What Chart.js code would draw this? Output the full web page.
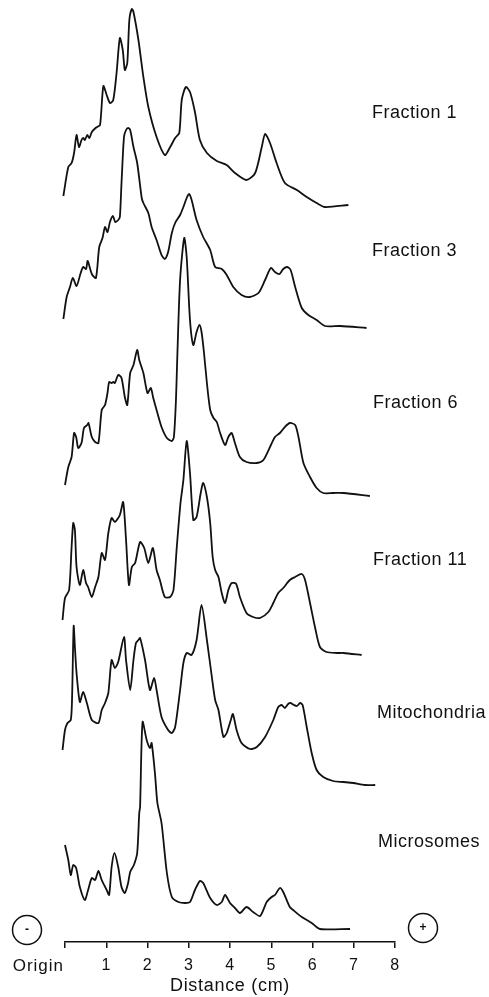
<!DOCTYPE html>
<html>
<head>
<meta charset="utf-8">
<script src="https://cdn.jsdelivr.net/npm/chart.js@4.4.1/dist/chart.umd.min.js"></script>
<style>
  html, body { margin: 0; padding: 0; background: #fff; }
  #wrap { width: 489px; height: 997px; }
</style>
</head>
<body>
<div id="wrap"><canvas id="densChart" width="489" height="997"></canvas></div>
<script>
// densitometer traces: distance from origin (cm) and absorbance above each trace's own baseline
const traceNames = ["Fraction 1", "Fraction 3", "Fraction 6", "Fraction 11", "Mitochondria", "Microsomes"];
const xTicks = [0, 1, 2, 3, 4, 5, 6, 7, 8];

const fraction1Cm = [-0.04, 0.08, 0.16, 0.22, 0.28, 0.34, 0.40, 0.44, 0.48, 0.54, 0.59, 0.65, 0.74, 0.78, 0.85, 0.93, 1.01, 1.09, 1.17, 1.25, 1.33, 1.40, 1.45, 1.51, 1.56, 1.62, 1.66, 1.78, 1.90, 2.02, 2.22, 2.42, 2.55, 2.67, 2.77, 2.83, 2.93, 3.03, 3.15, 3.27, 3.44, 3.68, 3.92, 4.12, 4.40, 4.61, 4.77, 4.85, 4.97, 5.13, 5.33, 5.62, 5.86, 6.10, 6.30, 6.87];
const fraction1Abs = [9, 38, 42, 52, 70, 58, 65, 67, 65, 70, 67, 73, 77, 78, 80, 119, 110, 102, 105, 132, 167, 155, 135, 142, 185, 196, 193, 165, 128, 98, 68, 50, 58, 67, 72, 105, 118, 113, 93, 65, 52, 44, 40, 32, 25, 32, 58, 71, 62, 42, 22, 15, 8, 2, -2, 0];

const fraction3Cm = [-0.04, 0.04, 0.12, 0.19, 0.28, 0.38, 0.44, 0.51, 0.55, 0.65, 0.75, 0.83, 0.91, 0.97, 1.03, 1.09, 1.16, 1.22, 1.29, 1.33, 1.37, 1.43, 1.48, 1.53, 1.58, 1.66, 1.75, 1.86, 1.90, 2.02, 2.10, 2.22, 2.34, 2.42, 2.50, 2.59, 2.67, 2.79, 2.87, 2.96, 3.01, 3.07, 3.19, 3.35, 3.52, 3.64, 3.80, 3.92, 4.08, 4.28, 4.48, 4.69, 4.85, 4.99, 5.09, 5.20, 5.29, 5.39, 5.47, 5.58, 5.74, 5.90, 6.10, 6.30, 6.67, 7.31];
const fraction3Abs = [8, 30, 40, 49, 41, 54, 60, 58, 66, 53, 49, 80, 89, 100, 95, 105, 111, 105, 107, 110, 144, 190, 197, 199, 197, 180, 164, 129, 124, 114, 100, 87, 72, 68, 75, 94, 104, 112, 120, 130, 133, 127, 107, 90, 77, 60, 58, 52, 40, 32, 30, 34, 47, 59, 55, 53, 58, 60, 57, 40, 19, 12, 7, 1, 1, -1];

const fraction6Cm = [0.00, 0.08, 0.16, 0.22, 0.27, 0.32, 0.40, 0.46, 0.54, 0.57, 0.65, 0.73, 0.81, 0.89, 0.97, 1.03, 1.07, 1.13, 1.17, 1.21, 1.29, 1.37, 1.45, 1.51, 1.58, 1.66, 1.75, 1.80, 1.90, 2.00, 2.08, 2.14, 2.22, 2.34, 2.47, 2.59, 2.64, 2.69, 2.72, 2.79, 2.89, 2.95, 3.03, 3.11, 3.19, 3.26, 3.31, 3.37, 3.44, 3.52, 3.60, 3.68, 3.76, 3.88, 3.96, 4.04, 4.12, 4.24, 4.40, 4.65, 4.81, 4.97, 5.09, 5.21, 5.33, 5.45, 5.58, 5.66, 5.78, 5.94, 6.10, 6.26, 6.50, 6.75, 7.39];
const fraction6Abs = [10, 28, 38, 62, 58, 47, 52, 67, 70, 72, 58, 53, 52, 85, 90, 102, 113, 112, 113, 112, 120, 117, 98, 90, 122, 130, 145, 135, 122, 102, 107, 97, 85, 68, 57, 54, 58, 95, 135, 215, 257, 238, 175, 150, 163, 170, 163, 142, 112, 85, 77, 73, 62, 50, 58, 62, 52, 38, 33, 32, 35, 48, 58, 62, 68, 72, 70, 58, 32, 18, 7, 2, 2, 2, -1];

const fraction11Cm = [-0.06, 0.00, 0.10, 0.16, 0.20, 0.24, 0.28, 0.36, 0.44, 0.51, 0.56, 0.65, 0.73, 0.81, 0.89, 0.97, 1.05, 1.13, 1.21, 1.33, 1.41, 1.48, 1.55, 1.62, 1.70, 1.82, 1.92, 2.02, 2.13, 2.22, 2.30, 2.42, 2.55, 2.63, 2.71, 2.80, 2.87, 2.95, 3.03, 3.11, 3.19, 3.29, 3.35, 3.44, 3.52, 3.58, 3.64, 3.72, 3.80, 3.88, 3.96, 4.04, 4.15, 4.24, 4.40, 4.56, 4.73, 4.93, 5.05, 5.17, 5.29, 5.45, 5.58, 5.74, 5.82, 5.94, 6.06, 6.18, 6.34, 6.59, 6.75, 7.19];
const fraction11Abs = [34, 56, 64, 107, 131, 124, 87, 69, 84, 71, 67, 57, 67, 77, 101, 94, 121, 136, 132, 139, 152, 114, 69, 87, 91, 112, 106, 91, 106, 84, 74, 57, 57, 64, 107, 151, 174, 213, 181, 134, 137, 161, 171, 157, 131, 97, 84, 77, 61, 51, 64, 71, 70, 57, 41, 37, 36, 42, 51, 61, 66, 74, 77, 80, 74, 51, 27, 7, 2, 1, 1, -1];

const mitoCm = [-0.06, 0.00, 0.06, 0.14, 0.17, 0.21, 0.24, 0.28, 0.36, 0.44, 0.53, 0.65, 0.81, 0.89, 0.97, 1.05, 1.13, 1.21, 1.29, 1.43, 1.48, 1.58, 1.66, 1.72, 1.78, 1.82, 1.94, 2.06, 2.16, 2.22, 2.34, 2.50, 2.59, 2.67, 2.79, 2.87, 2.95, 3.07, 3.19, 3.31, 3.44, 3.56, 3.64, 3.72, 3.84, 3.92, 4.02, 4.07, 4.16, 4.28, 4.48, 4.65, 4.85, 5.05, 5.17, 5.25, 5.33, 5.41, 5.47, 5.55, 5.62, 5.70, 5.76, 5.86, 5.98, 6.10, 6.26, 6.50, 6.75, 6.99, 7.27, 7.52];
const mitoAbs = [35, 55, 62, 65, 85, 159, 138, 112, 83, 93, 82, 65, 62, 75, 82, 92, 125, 117, 123, 148, 125, 95, 125, 142, 145, 147, 125, 95, 107, 95, 68, 55, 52, 58, 95, 122, 132, 130, 145, 180, 145, 108, 85, 75, 48, 52, 65, 71, 55, 42, 36, 38, 48, 65, 78, 80, 77, 81, 82, 80, 79, 82, 80, 58, 32, 15, 8, 4, 3, 2, 0, 0];

const microCm = [0.00, 0.08, 0.14, 0.20, 0.27, 0.36, 0.48, 0.56, 0.65, 0.73, 0.81, 0.89, 1.01, 1.07, 1.13, 1.20, 1.29, 1.37, 1.45, 1.53, 1.58, 1.67, 1.75, 1.80, 1.82, 1.88, 1.98, 2.06, 2.10, 2.18, 2.24, 2.34, 2.47, 2.59, 2.75, 2.91, 3.03, 3.15, 3.27, 3.35, 3.52, 3.68, 3.80, 3.88, 4.00, 4.12, 4.24, 4.40, 4.56, 4.73, 4.89, 5.01, 5.09, 5.21, 5.29, 5.45, 5.53, 5.74, 5.98, 6.18, 6.91];
const microAbs = [84, 69, 54, 64, 61, 42, 29, 39, 51, 49, 58, 49, 39, 34, 62, 76, 62, 42, 36, 46, 57, 64, 76, 116, 122, 207, 189, 181, 186, 156, 126, 106, 56, 32, 27, 26, 27, 39, 48, 46, 31, 24, 27, 34, 26, 21, 16, 22, 17, 13, 27, 32, 34, 41, 37, 22, 19, 12, 6, 0, 0];

// vertical offset of each trace's baseline on the stacked plot
const traceOffsets = [737, 615, 447, 288, 157, 13];

const traceCm = [fraction1Cm, fraction3Cm, fraction6Cm, fraction11Cm, mitoCm, microCm];
const traceAbs = [fraction1Abs, fraction3Abs, fraction6Abs, fraction11Abs, mitoAbs, microAbs];

// label placement (left x in px, height above baseline in data units)
const labelLayout = [
  [372, 92], [372, 76], [373, 92], [373, 94], [377, 72], [378, 87]
];

const FONT = "'Liberation Sans', Arial, sans-serif";
const INK = "#111";

const stackLabels = {
  id: "stackLabels",
  beforeDraw(chart) {
    chart.ctx.letterSpacing = "0.7px";
  },
  afterDraw(chart) {
    const ctx = chart.ctx;
    const xs = chart.scales.x;
    const ys = chart.scales.y;
    ctx.save();
    ctx.fillStyle = INK;
    ctx.strokeStyle = INK;
    ctx.font = "18px " + FONT;
    ctx.letterSpacing = "0.5px";
    ctx.textAlign = "left";
    ctx.textBaseline = "middle";
    traceNames.forEach((name, i) => {
      const [lx, dy] = labelLayout[i];
      ctx.fillText(name, lx, ys.getPixelForValue(traceOffsets[i] + dy));
    });

    // origin label sits left of the zero tick
    ctx.font = "17px " + FONT;
    ctx.letterSpacing = "1px";
    ctx.textAlign = "right";
    ctx.fillText("Origin", xs.getPixelForValue(0) - 1, 966);

    // electrode symbols
    ctx.lineWidth = 1.5;
    ctx.letterSpacing = "0px";
    [[27, 930, "-"], [423, 928, "+"]].forEach(([cx, cy, sign]) => {
      ctx.beginPath();
      ctx.arc(cx, cy, 14.5, 0, Math.PI * 2);
      ctx.stroke();
      ctx.font = "bold 12px " + FONT;
      ctx.textAlign = "center";
      ctx.fillText(sign, cx, cy);
    });
    ctx.restore();
  },
};

const ctx = document.getElementById("densChart").getContext("2d");

const datasets = traceNames.map((name, i) => ({
  label: name,
  data: traceCm[i].map((x, j) => ({ x, y: traceAbs[i][j] + traceOffsets[i] })),
  borderColor: INK,
  borderWidth: 1.8,
  pointRadius: 0,
  tension: 0.25,
  fill: false,
  clip: false,
}));

new Chart(ctx, {
  type: "line",
  data: { datasets },
  options: {
    responsive: false,
    animation: false,
    devicePixelRatio: 1,
    layout: { padding: { left: 65, right: 94, top: 0, bottom: 0 } },
    plugins: {
      legend: { display: false },
      tooltip: { enabled: false },
    },
    scales: {
      x: {
        type: "linear",
        min: 0,
        max: 8,
        afterBuildTicks: (scale) => {
          scale.ticks = xTicks.map((v) => ({ value: v }));
        },
        afterFit: (scale) => {
          scale.height = 55;
        },
        ticks: {
          callback: (v) => (v === 0 ? "" : String(v)),
          color: INK,
          font: { size: 16, family: FONT },
          padding: 8,
          maxRotation: 0,
        },
        grid: {
          drawOnChartArea: false,
          drawTicks: true,
          tickLength: 6,
          color: INK,
          lineWidth: 1.5,
        },
        border: { display: true, color: INK, width: 1.5 },
        title: {
          display: true,
          text: "Distance (cm)",
          color: INK,
          font: { size: 18, family: FONT },
          padding: { top: 0, bottom: 0 },
        },
      },
      y: {
        display: false,
        min: 0,
        max: 942,
      },
    },
  },
  plugins: [stackLabels],
});
</script>
</body>
</html>
